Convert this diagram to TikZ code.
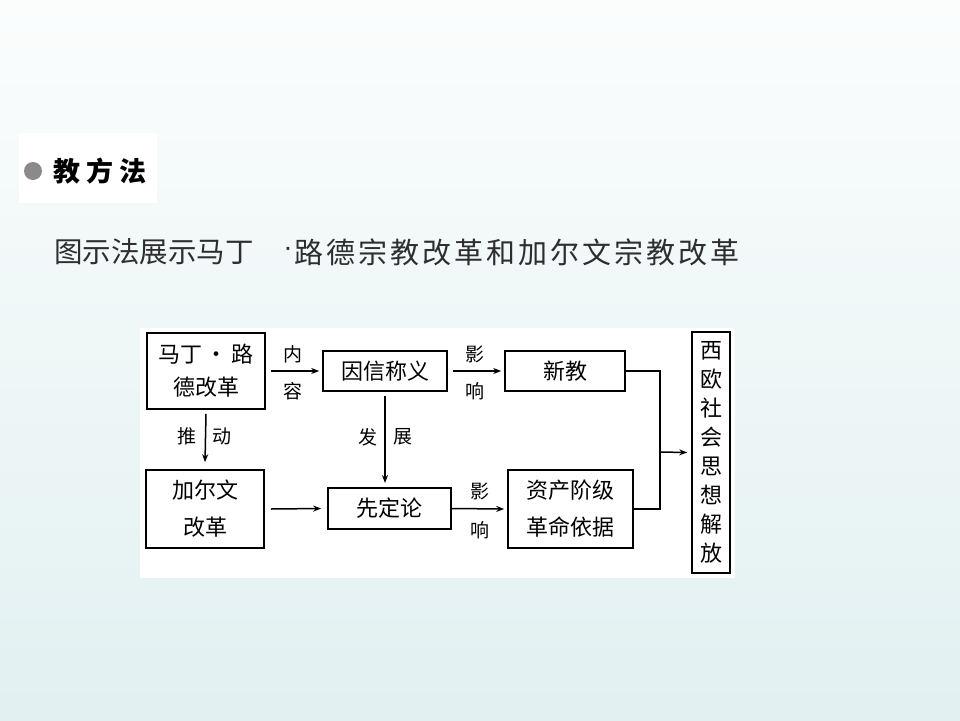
\documentclass[tikz,border=0pt]{standalone}
\usepackage{fontspec}
\setmainfont{Noto Sans CJK SC}
\newfontfamily\latinfont{Liberation Sans}
\usetikzlibrary{arrows.meta}
\definecolor{bgtop}{HTML}{FBFDFD}
\definecolor{bgbot}{HTML}{E2F0F1}
\definecolor{dotgray}{HTML}{8A8A8A}
\definecolor{subtxt}{HTML}{2E2E2E}
\begin{document}
\begin{tikzpicture}[x=1pt,y=-1pt,
  boxs/.style={draw=black,line width=1.6pt,fill=white,inner sep=0pt,align=center,
    font=\fontsize{22}{33}\selectfont},
  arr/.style={line width=1.5pt,-{Stealth[length=8pt,width=6pt]}},
  lnk/.style={line width=1.5pt},
  lab/.style={inner sep=0pt,font=\fontsize{19}{20}\selectfont},
  subs/.style={inner sep=0pt,anchor=west,text=subtxt}]
\useasboundingbox (0,0) rectangle (960,720);
\shade[top color=bgtop,bottom color=bgbot] (0,0) rectangle (960,720);
% header
\fill[white] (19,133) rectangle (157,203);
\fill[dotgray] (33,171) circle (9);
\node[inner sep=0pt,font=\fontsize{27}{30}\selectfont\bfseries] (hd) at (100,171) {教\hspace{6pt}方\hspace{6pt}法};
\node[subs,font=\fontsize{28.5}{30}\selectfont] (sub1) at (54,252) {图示法展示马丁};
\node[inner sep=0pt,text=subtxt,font=\latinfont\fontsize{28}{30}\selectfont] (sub2) at (288,252) {·};
\node[subs,font=\fontsize{29}{30}\selectfont\addfontfeatures{LetterSpace=10.5}] (sub3) at (294,252) {路德宗教改革和加尔文宗教改革};
% diagram panel
\fill[white] (140,328) rectangle (735,578);
\node[boxs,minimum width=118pt,minimum height=76pt] (ml) at (206,371) {马丁\,•\,路\\德改革};
\node[boxs,minimum width=124pt,minimum height=40pt] (yx) at (385,371) {因信称义};
\node[boxs,minimum width=120pt,minimum height=40pt] (xj) at (565,371) {新教};
\node[boxs,minimum width=118pt,minimum height=78pt,font=\fontsize{22}{37}\selectfont] (jew) at (205,509) {加尔文\\改革};
\node[boxs,minimum width=123pt,minimum height=41pt] (xdl) at (389.5,508.5) {先定论};
\node[boxs,minimum width=125pt,minimum height=78pt,font=\fontsize{22}{37}\selectfont] (zc) at (570.5,509) {资产阶级\\革命依据};
\node[boxs,minimum width=38pt,minimum height=241pt,font=\fontsize{22}{29}\selectfont] (xo) at (711,452.5) {西\\欧\\社\\会\\思\\想\\解\\放};
% connectors
\draw[arr] ([xshift=5pt]ml.east) -- ([xshift=-3pt]yx.west);
\draw[arr] ([xshift=5pt]yx.east) -- ([xshift=-3pt]xj.west);
\draw[arr] ([yshift=-4pt]ml.south) -- ([yshift=7pt]jew.north);
\coordinate (yxs) at (385,396);
\coordinate (yxe) at (385,483);
\draw[arr] (yxs) -- (yxe);
\draw[arr] ([xshift=6pt]jew.east) -- ([xshift=-6pt]xdl.west);
\draw[arr] (xdl.east) -- ([xshift=-3pt]zc.west);
\coordinate (mx) at (660,452);
\draw[lnk] (xj.east) -| (mx);
\draw[lnk] (zc.east) -| (mx);
\draw[arr] (mx) -- ([xshift=-4pt]xo.west);
% labels
\node[lab] (l1) at (293,354) {内};
\node[lab] (l2) at (293,391) {容};
\node[lab] (l3) at (475,354) {影};
\node[lab] (l4) at (475,391) {响};
\node[lab] (l5) at (187,436) {推};
\node[lab] (l6) at (222,436) {动};
\node[lab] (l7) at (368,437) {发};
\node[lab] (l8) at (403,437) {展};
\node[lab] (l9) at (480,491) {影};
\node[lab] (l10) at (480,530) {响};
\end{tikzpicture}
\end{document}
